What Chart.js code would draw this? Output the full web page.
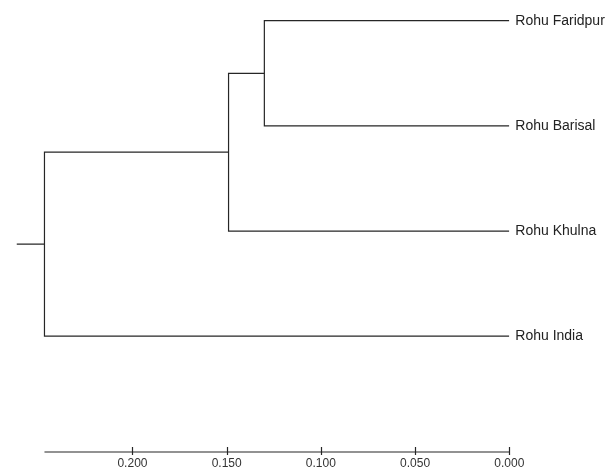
<!DOCTYPE html>
<html>
<head>
<meta charset="utf-8">
<script src="https://cdn.jsdelivr.net/npm/chart.js@4"></script>
<style>
  html, body { margin: 0; padding: 0; background: #fff; }
  #wrap { width: 612px; height: 469px; }
</style>
</head>
<body>
<div id="wrap"><canvas id="dendro"></canvas></div>
<script>
// Folhas (de cima para baixo) e posição de cada uma no eixo y
const leafNames = ['Rohu Faridpur', 'Rohu Barisal', 'Rohu Khulna', 'Rohu India'];
const leafRows = [1, 2, 3, 4];

// Junções: ids 0-3 são folhas, 4+ são os nós criados em ordem
const mergeA = [0, 4, 5];
const mergeB = [1, 2, 3];
const mergeHeight = [0.130, 0.149, 0.2467];
const rootStub = 0.2614;

// Escala de distância
const tickValues = [0, 0.05, 0.1, 0.15, 0.2];
const xMax = 0.2703;

const lineColor = '#262626';

// Montar os nós (x = distância, y = linha)
const nodes = leafRows.map(r => ({ x: 0, y: r }));
mergeHeight.forEach((h, i) => {
    const a = nodes[mergeA[i]];
    const b = nodes[mergeB[i]];
    nodes.push({ x: h, y: (a.y + b.y) / 2 });
});

const datasets = mergeHeight.map((h, i) => {
    const a = nodes[mergeA[i]];
    const b = nodes[mergeB[i]];
    return {
        data: [
            { x: a.x, y: a.y },
            { x: h, y: a.y },
            { x: h, y: b.y },
            { x: b.x, y: b.y }
        ]
    };
});
const root = nodes[nodes.length - 1];
datasets.push({ data: [{ x: rootStub, y: root.y }, { x: root.x, y: root.y }] });

datasets.forEach(d => {
    d.showLine = true;
    d.borderColor = lineColor;
    d.borderWidth = 1.2;
    d.pointRadius = 0;
    d.tension = 0;
    d.fill = false;
});

// Linha da escala, do nó raiz até 0, com traços nos ticks
const scaleBar = {
    id: 'scaleBar',
    afterDraw(chart) {
        const ctx = chart.ctx;
        const xs = chart.scales.x;
        const yb = chart.chartArea.bottom;
        ctx.save();
        ctx.strokeStyle = lineColor;
        ctx.lineWidth = 1.2;
        ctx.beginPath();
        ctx.moveTo(xs.getPixelForValue(root.x), yb);
        ctx.lineTo(xs.getPixelForValue(0), yb);
        tickValues.forEach(v => {
            const px = Math.round(xs.getPixelForValue(v)) + 0.5;
            ctx.moveTo(px, yb - 5);
            ctx.lineTo(px, yb + 3);
        });
        ctx.stroke();
        ctx.restore();
    }
};

new Chart(document.getElementById('dendro'), {
    type: 'scatter',
    data: { datasets },
    options: {
        responsive: true,
        maintainAspectRatio: false,
        animation: false,
        layout: { padding: 0 },
        plugins: { legend: { display: false }, tooltip: { enabled: false } },
        scales: {
            x: {
                type: 'linear',
                reverse: true,
                min: 0,
                max: xMax,
                grid: { display: false, drawTicks: false },
                border: { display: false },
                afterBuildTicks: s => { s.ticks = tickValues.map(v => ({ value: v })); },
                afterFit: s => { s.height = 17; s.paddingLeft = 0; s.paddingRight = 0; },
                ticks: {
                    padding: 4,
                    color: '#333',
                    font: { family: 'Liberation Sans, Arial, sans-serif', size: 12 },
                    callback: v => Number(v).toFixed(3)
                }
            },
            y: {
                type: 'linear',
                position: 'right',
                reverse: true,
                min: 0.8032,
                max: 5.101,
                grid: { display: false, drawTicks: false },
                border: { display: false },
                afterBuildTicks: s => { s.ticks = leafRows.map(v => ({ value: v })); },
                afterFit: s => { s.width = 102.7; s.paddingTop = 0; s.paddingBottom = 0; },
                ticks: {
                    padding: 6,
                    color: '#222',
                    font: { family: 'Liberation Sans, Arial, sans-serif', size: 14 },
                    callback: v => leafNames[leafRows.indexOf(v)]
                }
            }
        }
    },
    plugins: [scaleBar]
});
</script>
</body>
</html>
